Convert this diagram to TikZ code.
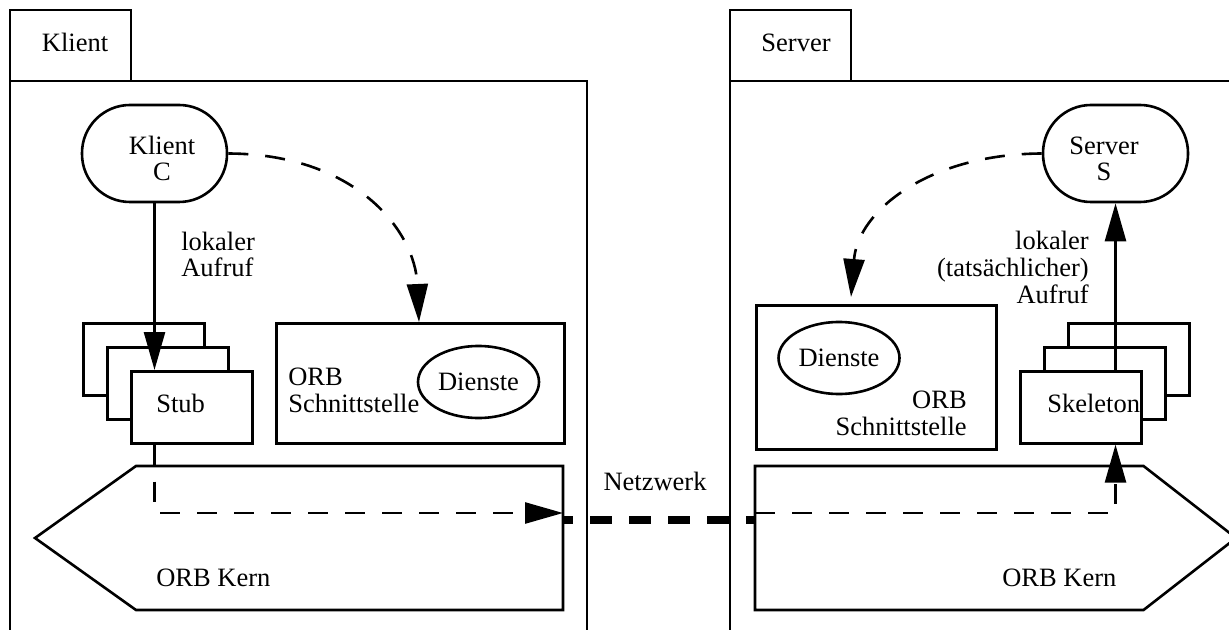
\documentclass[tikz,border=0pt]{standalone}
\usepackage{fontspec}
\setmainfont{Liberation Serif}
\usetikzlibrary{arrows.meta,shapes.geometric}
\begin{document}
\begin{tikzpicture}[x=0.5pt,y=-0.5pt,line width=1.3pt,
  every node/.style={font=\fontsize{13.25}{13.4}\selectfont},
  box/.style={draw,fill=white,inner sep=0pt,anchor=north west},
  stack/.style={box,minimum width=60.5pt,minimum height=36pt},
  stadium/.style={draw,fill=white,rounded corners=24pt,inner sep=0pt,
    minimum width=72.5pt,minimum height=48.5pt},
  svc/.style={draw,ellipse,inner sep=0pt,minimum width=60.5pt,minimum height=36pt},
  txt/.style={inner sep=0pt},
  arr/.style={-{Triangle[length=19pt,width=10.5pt]}},
  dsh/.style={dash pattern=on 10pt off 8.5pt},
  net/.style={line width=4pt,dash pattern=on 11pt off 8.5pt,dash phase=6pt}]
\useasboundingbox (0,0) rectangle (1229,630);

% ---------- client side ----------
\draw (10,10) rectangle (131,81);
\draw (10,630) -- (10,81) -- (587,81) -- (587,630);
\node[txt,anchor=base] (klientTab) at (75,52) {Klient};

\node[stadium] (klient) at (154.5,153.5) {};
\node[txt,anchor=base,align=center] (klientT) at (162,181) {Klient\\C};

\node[stack] (stubC) at (82,322) {};
\node[stack] (stubB) at (106,346) {};
\node[stack] (stub) at (130,370) {};
\node[txt,anchor=base west] (stubT) at (155,412) {Stub};

\node[box,minimum width=144pt,minimum height=60pt] (orbL) at (275,322) {};
\node[txt,anchor=base west,align=left] (orbLT) at (287,412) {ORB\\Schnittstelle};
\node[svc] (diensteL) at (478.5,382) {Dienste};

\draw (136,466) -- (563,466) -- (563,610) -- (136,610) -- (35,538) -- cycle;
\coordinate (kernLe) at (563,513);
\coordinate (kernLn) at (563,520);
\node[txt,anchor=base west] (kernLT) at (155,586) {ORB Kern};

\node[txt,anchor=base west,align=left] (lokalL) at (180,277) {lokaler\\Aufruf};

% ---------- server side ----------
\draw (730,10) rectangle (851,81);
\draw (730,630) -- (730,81) -- (1240,81);
\node[txt,anchor=base] (serverTab) at (796,52) {Server};

\node[stadium] (server) at (1115.5,153.5) {};
\node[txt,anchor=base,align=center] (serverT) at (1104,181) {Server\\S};

\node[stack] (skelC) at (1067,322) {};
\node[stack] (skelB) at (1043,346) {};
\node[stack] (skel) at (1019,370) {};
\node[txt,anchor=base west] (skelT) at (1046,412) {Skeleton};

\node[box,minimum width=120pt,minimum height=72pt] (orbR) at (755,304) {};
\node[svc] (diensteR) at (839,358) {Dienste};
\node[txt,anchor=base east,align=right] (orbRT) at (968,435) {ORB\\Schnittstelle};

\draw (755,466) -- (1143.5,466) -- (1236,538) -- (1143.5,610) -- (755,610) -- cycle;
\coordinate (kernRw) at (755,513);
\coordinate (kernRn) at (755,520);
\node[txt,anchor=base west] (kernRT) at (1001,586) {ORB Kern};

\node[txt,anchor=base east,align=right] (lokalR) at (1090,303) {lokaler\\(tatsächlicher)\\Aufruf};

% ---------- network ----------
\node[txt,anchor=base] (netT) at (655,490) {Netzwerk};

% ---------- connectors ----------
\draw[arr] (klient.south) -- (klient.south |- stub.north);
\draw[arr] (server.south |- skel.north) -- (server.south);
\draw[arr,dsh] (klient.east) .. controls (355,154) and (415,230) .. ([xshift=72pt]orbL.north west);
\draw[arr,dsh] (server.west) .. controls (930,154) and (858,210) .. ([xshift=48pt,yshift=3.5pt]orbR.north west);
\draw[arr,dsh] (klient.south |- stub.south) |- (kernLe);
\draw[arr,dsh] (kernRw) -| (server.south |- skel.south);
\draw[net] (kernLn) -- (kernRn);
\end{tikzpicture}
\end{document}
